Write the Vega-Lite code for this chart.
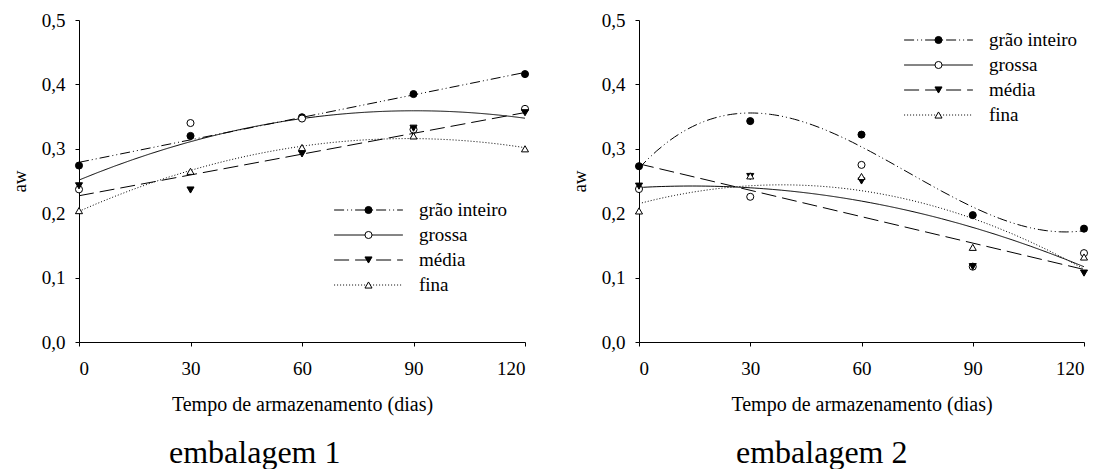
{
  "$schema": "https://vega.github.io/schema/vega-lite/v6.json",
  "padding": {"left": 10, "top": 11, "right": 0, "bottom": 0},
  "background": "white",
  "config": {
    "font": "Liberation Serif",
    "view": {"stroke": null},
    "axis": {"domainColor": "black", "tickColor": "black", "labelColor": "black", "titleColor": "black", "labelFont": "Liberation Serif", "titleFont": "Liberation Serif", "labelFontSize": 19, "tickSize": 4, "grid": false, "titleFontWeight": "normal", "domainWidth": 1, "tickWidth": 1},
    "title": {"font": "Liberation Serif", "fontSize": 32, "fontWeight": "normal", "color": "black"},
    "concat": {"spacing": 39}
  },
  "resolve": {
    "scale": {"strokeDash": "independent", "shape": "independent", "fill": "independent"},
    "legend": {"strokeDash": "independent", "shape": "independent", "fill": "independent"}
  },
  "data": {"values": [
    {"emb": 1, "serie": "grão inteiro", "dias": 0, "aw": 0.274},
    {"emb": 1, "serie": "grão inteiro", "dias": 30, "aw": 0.320},
    {"emb": 1, "serie": "grão inteiro", "dias": 60, "aw": 0.349},
    {"emb": 1, "serie": "grão inteiro", "dias": 90, "aw": 0.385},
    {"emb": 1, "serie": "grão inteiro", "dias": 120, "aw": 0.416},
    {"emb": 1, "serie": "grossa", "dias": 0, "aw": 0.237},
    {"emb": 1, "serie": "grossa", "dias": 30, "aw": 0.340},
    {"emb": 1, "serie": "grossa", "dias": 60, "aw": 0.347},
    {"emb": 1, "serie": "grossa", "dias": 90, "aw": 0.330},
    {"emb": 1, "serie": "grossa", "dias": 120, "aw": 0.362},
    {"emb": 1, "serie": "média", "dias": 0, "aw": 0.2425},
    {"emb": 1, "serie": "média", "dias": 30, "aw": 0.236},
    {"emb": 1, "serie": "média", "dias": 60, "aw": 0.292},
    {"emb": 1, "serie": "média", "dias": 90, "aw": 0.332},
    {"emb": 1, "serie": "média", "dias": 120, "aw": 0.356},
    {"emb": 1, "serie": "fina", "dias": 0, "aw": 0.204},
    {"emb": 1, "serie": "fina", "dias": 30, "aw": 0.265},
    {"emb": 1, "serie": "fina", "dias": 60, "aw": 0.302},
    {"emb": 1, "serie": "fina", "dias": 90, "aw": 0.320},
    {"emb": 1, "serie": "fina", "dias": 120, "aw": 0.300},
    {"emb": 2, "serie": "grão inteiro", "dias": 0, "aw": 0.273},
    {"emb": 2, "serie": "grão inteiro", "dias": 30, "aw": 0.343},
    {"emb": 2, "serie": "grão inteiro", "dias": 60, "aw": 0.322},
    {"emb": 2, "serie": "grão inteiro", "dias": 90, "aw": 0.197},
    {"emb": 2, "serie": "grão inteiro", "dias": 120, "aw": 0.176},
    {"emb": 2, "serie": "grossa", "dias": 0, "aw": 0.2375},
    {"emb": 2, "serie": "grossa", "dias": 30, "aw": 0.2255},
    {"emb": 2, "serie": "grossa", "dias": 60, "aw": 0.275},
    {"emb": 2, "serie": "grossa", "dias": 90, "aw": 0.117},
    {"emb": 2, "serie": "grossa", "dias": 120, "aw": 0.138},
    {"emb": 2, "serie": "média", "dias": 0, "aw": 0.242},
    {"emb": 2, "serie": "média", "dias": 30, "aw": 0.257},
    {"emb": 2, "serie": "média", "dias": 60, "aw": 0.250},
    {"emb": 2, "serie": "média", "dias": 90, "aw": 0.117},
    {"emb": 2, "serie": "média", "dias": 120, "aw": 0.107},
    {"emb": 2, "serie": "fina", "dias": 0, "aw": 0.2035},
    {"emb": 2, "serie": "fina", "dias": 30, "aw": 0.258},
    {"emb": 2, "serie": "fina", "dias": 60, "aw": 0.257},
    {"emb": 2, "serie": "fina", "dias": 90, "aw": 0.147},
    {"emb": 2, "serie": "fina", "dias": 120, "aw": 0.132}
  ]},
  "hconcat": [
    {
      "width": 446, "height": 322,
      "title": {"text": "embalagem 1", "orient": "bottom", "anchor": "start", "frame": "group", "dx": 90, "offset": 24},
      "transform": [{"filter": "datum.emb == 1"}],
      "encoding": {
        "x": {"field": "dias", "type": "quantitative", "scale": {"domain": [0, 120], "nice": false},
              "axis": {"values": [0, 30, 60, 90, 120], "title": "Tempo de armazenamento (dias)", "titleFontSize": 20, "labelPadding": 13, "titlePadding": 16}},
        "y": {"field": "aw", "type": "quantitative", "scale": {"domain": [0, 0.5], "nice": false},
              "axis": {"values": [0, 0.1, 0.2, 0.3, 0.4, 0.5], "labelExpr": "replace(format(datum.value, '.1f'), '.', ',')", "title": "aw", "titleFontSize": 19, "labelPadding": 10, "titlePadding": 12}}
      },
      "layer": [
        {
          "encoding": {
            "strokeDash": {"field": "serie", "type": "nominal",
              "scale": {"domain": ["grão inteiro", "grossa", "média", "fina"], "range": [[10, 3, 1, 3, 1, 3], [1, 0], [15, 6], [1, 2]]},
              "legend": {"orient": "none", "legendX": 280, "legendY": 180.5, "title": null, "padding": 0, "symbolType": "M-4.3,0H4.3", "symbolSize": 256, "symbolStrokeWidth": 1, "symbolStrokeColor": "black", "labelFont": "Liberation Serif", "labelFontSize": 19, "labelColor": "black", "labelOffset": 41, "rowPadding": 5}}
          },
          "layer": [
            {"transform": [{"filter": "datum.serie == 'grão inteiro'"}, {"regression": "aw", "on": "dias", "method": "linear", "groupby": ["serie"]}], "mark": {"type": "line", "color": "black", "strokeWidth": 1}},
            {"transform": [{"filter": "datum.serie == 'grossa'"}, {"regression": "aw", "on": "dias", "method": "poly", "order": 2, "groupby": ["serie"]}], "mark": {"type": "line", "color": "black", "strokeWidth": 1}},
            {"transform": [{"filter": "datum.serie == 'média'"}, {"regression": "aw", "on": "dias", "method": "linear", "groupby": ["serie"]}], "mark": {"type": "line", "color": "black", "strokeWidth": 1}},
            {"transform": [{"filter": "datum.serie == 'fina'"}, {"regression": "aw", "on": "dias", "method": "poly", "order": 2, "groupby": ["serie"]}], "mark": {"type": "line", "color": "black", "strokeWidth": 1}}
          ]
        },
        {
          "mark": {"type": "point", "filled": true, "stroke": "black", "strokeWidth": 1, "size": 50, "opacity": 1},
          "encoding": {
            "shape": {"field": "serie", "type": "nominal", "sort": ["grão inteiro", "grossa", "média", "fina"],
              "scale": {"range": ["circle", "circle", "triangle-down", "triangle-up"]},
              "legend": {"orient": "none", "legendX": 280, "legendY": 180.5, "title": null, "padding": 0, "symbolSize": 50, "symbolStrokeWidth": 1, "symbolStrokeColor": "black",
                "symbolFillColor": {"expr": "indexof(['grossa', 'fina'], datum.value) >= 0 ? 'white' : 'black'"},
                "labelFont": "Liberation Serif", "labelFontSize": 19, "labelOpacity": 0, "labelOffset": 41, "rowPadding": 5}},
            "fill": {"field": "serie", "type": "nominal", "sort": ["grão inteiro", "grossa", "média", "fina"],
              "scale": {"range": ["black", "white", "black", "white"]}, "legend": null}
          }
        }
      ]
    },
    {
      "width": 445, "height": 322,
      "title": {"text": "embalagem 2", "orient": "bottom", "anchor": "start", "frame": "group", "dx": 97, "offset": 24},
      "transform": [{"filter": "datum.emb == 2"}],
      "encoding": {
        "x": {"field": "dias", "type": "quantitative", "scale": {"domain": [0, 120], "nice": false},
              "axis": {"values": [0, 30, 60, 90, 120], "title": "Tempo de armazenamento (dias)", "titleFontSize": 20, "labelPadding": 13, "titlePadding": 16}},
        "y": {"field": "aw", "type": "quantitative", "scale": {"domain": [0, 0.5], "nice": false},
              "axis": {"values": [0, 0.1, 0.2, 0.3, 0.4, 0.5], "labelExpr": "replace(format(datum.value, '.1f'), '.', ',')", "title": "aw", "titleFontSize": 19, "labelPadding": 10, "titlePadding": 12}}
      },
      "layer": [
        {
          "encoding": {
            "strokeDash": {"field": "serie", "type": "nominal",
              "scale": {"domain": ["grão inteiro", "grossa", "média", "fina"], "range": [[10, 3, 1, 3, 1, 3], [1, 0], [15, 6], [1, 2]]},
              "legend": {"orient": "none", "legendX": 290, "legendY": 10.5, "title": null, "padding": 0, "symbolType": "M-4.3,0H4.3", "symbolSize": 256, "symbolStrokeWidth": 1, "symbolStrokeColor": "black", "labelFont": "Liberation Serif", "labelFontSize": 19, "labelColor": "black", "labelOffset": 41, "rowPadding": 5}}
          },
          "layer": [
            {"transform": [{"filter": "datum.serie == 'grão inteiro'"}, {"regression": "aw", "on": "dias", "method": "poly", "order": 3, "groupby": ["serie"]}], "mark": {"type": "line", "color": "black", "strokeWidth": 1}},
            {"transform": [{"filter": "datum.serie == 'grossa'"}, {"regression": "aw", "on": "dias", "method": "poly", "order": 2, "groupby": ["serie"]}], "mark": {"type": "line", "color": "black", "strokeWidth": 1}},
            {"transform": [{"filter": "datum.serie == 'média'"}, {"regression": "aw", "on": "dias", "method": "linear", "groupby": ["serie"]}], "mark": {"type": "line", "color": "black", "strokeWidth": 1}},
            {"transform": [{"filter": "datum.serie == 'fina'"}, {"regression": "aw", "on": "dias", "method": "poly", "order": 2, "groupby": ["serie"]}], "mark": {"type": "line", "color": "black", "strokeWidth": 1}}
          ]
        },
        {
          "mark": {"type": "point", "filled": true, "stroke": "black", "strokeWidth": 1, "size": 50, "opacity": 1},
          "encoding": {
            "shape": {"field": "serie", "type": "nominal", "sort": ["grão inteiro", "grossa", "média", "fina"],
              "scale": {"range": ["circle", "circle", "triangle-down", "triangle-up"]},
              "legend": {"orient": "none", "legendX": 290, "legendY": 10.5, "title": null, "padding": 0, "symbolSize": 50, "symbolStrokeWidth": 1, "symbolStrokeColor": "black",
                "symbolFillColor": {"expr": "indexof(['grossa', 'fina'], datum.value) >= 0 ? 'white' : 'black'"},
                "labelFont": "Liberation Serif", "labelFontSize": 19, "labelOpacity": 0, "labelOffset": 41, "rowPadding": 5}},
            "fill": {"field": "serie", "type": "nominal", "sort": ["grão inteiro", "grossa", "média", "fina"],
              "scale": {"range": ["black", "white", "black", "white"]}, "legend": null}
          }
        }
      ]
    }
  ]
}
